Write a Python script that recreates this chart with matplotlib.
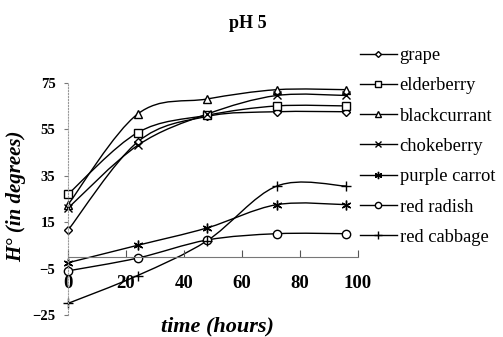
import matplotlib
matplotlib.use('Agg')
import matplotlib.pyplot as plt
import numpy as np
from matplotlib.path import Path
from matplotlib.patches import PathPatch
from matplotlib.lines import Line2D

plt.rcParams['font.family'] = ['Liberation Serif', 'DejaVu Serif']

hours = [0, 24, 48, 72, 96]
grape = [11.5, 49.5, 60.5, 62.5, 62.5]
elderberry = [27, 53.5, 61, 65, 65]
blackcurrant = [22.5, 61.5, 68, 72, 72]
chokeberry = [21, 48, 61.5, 69.5, 69.5]
purple_carrot = [-2.5, 5, 12.5, 22.5, 22.5]
red_radish = [-6, -0.5, 7.3, 10, 10]
red_cabbage = [-20, -8, 7, 30.5, 30.5]

names = ['grape', 'elderberry', 'blackcurrant', 'chokeberry',
         'purple carrot', 'red radish', 'red cabbage']
series = [grape, elderberry, blackcurrant, chokeberry,
          purple_carrot, red_radish, red_cabbage]
markers = ['D', 's', '^', 'x', (6, 2, 0), 'o', '+']
msizes = [4, 5.8, 6, 6, 7, 6, 7.5]

yticks = [-25, -5, 15, 35, 55, 75]
xticks = [0, 20, 40, 60, 80, 100]


def smooth_path(x, y):
    # excel-like smoothed line: bezier through the points
    pts = np.column_stack([x, y]).astype(float)
    ext = np.vstack([pts[0], pts, pts[-1]])
    verts = [pts[0]]
    codes = [Path.MOVETO]
    for i in range(len(pts) - 1):
        p0, p1, p2, p3 = ext[i], ext[i + 1], ext[i + 2], ext[i + 3]
        verts += [p1 + (p2 - p0) / 6, p2 - (p3 - p1) / 6, p2]
        codes += [Path.CURVE4] * 3
    return Path(verts, codes)


fig = plt.figure(figsize=(5.03, 3.37), dpi=100)
ax = fig.add_axes([68 / 503, 22 / 337, 290 / 503, 232.3 / 337])

handles = []
for name, vals, m, ms in zip(names, series, markers, msizes):
    ax.add_patch(PathPatch(smooth_path(hours, vals), fill=False,
                           ec='black', lw=1.0, clip_on=False))
    ax.plot(hours, vals, ls='none', marker=m, ms=ms, mfc='white',
            mec='black', mew=1.0, clip_on=False)
    handles.append(Line2D([], [], color='black', lw=1.0, marker=m,
                          ms=ms * 0.75, mfc='white', mec='black', mew=1.0,
                          label=name))

ax.set_xlim(0, 100)
ax.set_ylim(-25, 75)
ax.set_xticks(xticks)
ax.set_yticks(yticks)
ax.spines['top'].set_visible(False)
ax.spines['right'].set_visible(False)
ax.spines['bottom'].set_position(('data', 0))
ax.spines['bottom'].set_color('#777777')
ax.spines['left'].set_linestyle(':')
ax.spines['left'].set_color('#999999')
ax.tick_params(axis='x', direction='in', length=5, color='#555555',
               pad=13, labelsize=13.5)
ax.tick_params(axis='y', direction='out', length=3, color='#777777',
               pad=6, labelsize=10.5)
for lab in ax.get_xticklabels() + ax.get_yticklabels():
    lab.set_fontweight('bold')

fig.text(248 / 503, 1 - 23 / 337, 'pH 5', ha='center', va='center',
         fontsize=13, fontweight='bold')
fig.text(16 / 503, 1 - 196 / 337, 'H° (in degrees)', ha='center',
         va='center', rotation=90, fontsize=15, fontweight='bold',
         fontstyle='italic')
fig.text(217 / 503, 1 - 326 / 337, 'time (hours)', ha='center',
         va='center', fontsize=16, fontweight='bold', fontstyle='italic')

fig.legend(handles=handles, loc='upper left',
           bbox_to_anchor=(360 / 503, 1 - 47 / 337), frameon=False,
           fontsize=13.3, handlelength=2.0, handletextpad=0.15,
           labelspacing=0.72, borderpad=0, borderaxespad=0)

fig.savefig('out.png', dpi=100)
